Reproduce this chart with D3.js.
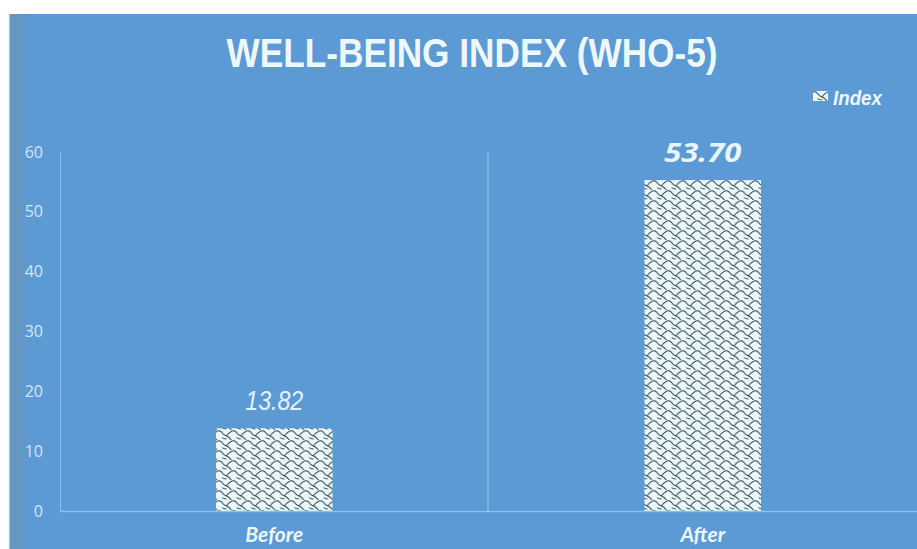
<!DOCTYPE html>
<html>
  <head>
    <meta charset="utf-8" />
    <title>Well-being index (WHO-5)</title>
    <script src="https://d3js.org/d3.v7.min.js"></script>
    <style>
      body {
        margin: 0;
        background: #fff;
      }
      svg {
        display: block;
      }
    </style>
  </head>
  <body>
    <svg width="917" height="549"></svg>
    <script>
      // data
      const categories = ["Before", "After"];
      const barValues = [13.82, 55.3]; // bar heights as drawn in the picture
      const labelTexts = ["13.82", "53.70"]; // data labels as printed
      const yTicks = [0, 10, 20, 30, 40, 50, 60];
      const seriesName = "Index";

      const W = 917,
        H = 549;
      const svg = d3.select("svg");

      // 背景
      const defs = svg.append("defs");
      const grad = defs
        .append("linearGradient")
        .attr("id", "edge")
        .attr("x1", 0)
        .attr("x2", 1);
      grad.append("stop").attr("offset", 0).attr("stop-color", "#6e95b8");
      grad.append("stop").attr("offset", 1).attr("stop-color", "#5b9ad4");

      svg.append("rect").attr("x", 9).attr("y", 14).attr("width", W - 9).attr("height", H - 14).attr("fill", "#5b9ad4");
      svg.append("rect").attr("x", 9).attr("y", 14).attr("width", 22).attr("height", H - 14).attr("fill", "url(#edge)");
      svg.append("rect").attr("x", 8).attr("y", 14).attr("width", 1.5).attr("height", H - 14).attr("fill", "#e4fbfb");

      // shingle pattern
      const pat = defs
        .append("pattern")
        .attr("id", "shingle")
        .attr("patternUnits", "userSpaceOnUse")
        .attr("width", 14.5)
        .attr("height", 10);
      pat.append("rect").attr("width", 14.5).attr("height", 10).attr("fill", "#e9f8fb");
      pat
        .append("path")
        .attr("d", "M0,1 Q3,0 4.5,2.5 T9,6 Q12,7 14.5,11 M9,6 Q11,3 14.5,1 M-5.5,6 Q-3,7 0,11 M0,-4 Q3,-5 4.5,-2.5 M4.5,7.5 Q6,9 9,9 M-5.5,9 Q-2,9 0,11")
        .attr("fill", "none")
        .attr("stroke", "#333d44")
        .attr("stroke-width", 1);

      // scales
      const x = d3.scaleBand().domain(categories).range([60, W]).padding(0);
      const y = d3.scaleLinear().domain([0, 60]).range([511, 152]);
      const barW = x.bandwidth() * 0.272;

      // axes
      const yAxis = svg
        .append("g")
        .attr("transform", "translate(43,0)")
        .call(d3.axisLeft(y).tickValues(yTicks).tickSize(0).tickPadding(0));
      yAxis.select(".domain").remove();
      yAxis
        .selectAll("text")
        .attr("font-family", "'Open Sans', Arial, sans-serif")
        .attr("font-size", 16)
        .attr("fill", "#d4e5f5");

      svg
        .append("line")
        .attr("x1", 60.5)
        .attr("x2", 60.5)
        .attr("y1", y(60))
        .attr("y2", y(0))
        .attr("stroke", "#8cbdec")
        .attr("stroke-width", 1);

      // category divider
      svg
        .append("line")
        .attr("x1", x("After") - 0.5)
        .attr("x2", x("After") - 0.5)
        .attr("y1", y(60))
        .attr("y2", y(0))
        .attr("stroke", "#86b9ea")
        .attr("stroke-width", 1.5);

      // bars
      svg
        .selectAll(".bar")
        .data(categories)
        .enter()
        .append("rect")
        .attr("class", "bar")
        .attr("x", (d) => x(d) + (x.bandwidth() - barW) / 2)
        .attr("y", (d, i) => y(barValues[i]))
        .attr("width", barW)
        .attr("height", (d, i) => y(0) - y(barValues[i]))
        .attr("fill", "url(#shingle)");

      svg
        .append("line")
        .attr("x1", 60)
        .attr("x2", W)
        .attr("y1", y(0) + 0.5)
        .attr("y2", y(0) + 0.5)
        .attr("stroke", "#8cc0f0")
        .attr("stroke-width", 1.5);

      // data labels
      svg
        .selectAll(".lbl")
        .data(categories)
        .enter()
        .append("text")
        .attr("class", "lbl")
        .attr("x", (d) => x(d) + x.bandwidth() / 2)
        .attr("y", (d, i) => y(barValues[i]) - 18)
        .attr("text-anchor", "middle")
        .attr("fill", (d, i) => (i === 0 ? "#e6f2fb" : "#eaf4fc"))
        .attr("font-family", (d, i) => (i === 0 ? "'Liberation Sans', Arial" : "'Open Sans', Arial"))
        .attr("font-style", "italic")
        .attr("font-weight", (d, i) => (i === 0 ? "normal" : "bold"))
        .attr("font-size", (d, i) => (i === 0 ? 27 : 26))
        .attr("textLength", (d, i) => (i === 0 ? 58 : 77))
        .attr("lengthAdjust", "spacingAndGlyphs")
        .text((d, i) => labelTexts[i]);

      // category labels
      svg
        .selectAll(".cat")
        .data(categories)
        .enter()
        .append("text")
        .attr("class", "cat")
        .attr("x", (d) => x(d) + x.bandwidth() / 2)
        .attr("y", 542)
        .attr("text-anchor", "middle")
        .attr("fill", "#eef6fd")
        .attr("font-family", "Lato, 'Open Sans', Arial")
        .attr("font-style", "italic")
        .attr("font-weight", "bold")
        .attr("font-size", 21)
        .text((d) => d);

      // title
      svg
        .append("text")
        .attr("x", 472)
        .attr("y", 67)
        .attr("text-anchor", "middle")
        .attr("fill", "#eef8fc")
        .attr("font-family", "'Liberation Sans Narrow', 'Liberation Sans', Arial")
        .attr("font-weight", "bold")
        .attr("font-size", 41)
        .attr("textLength", 491)
        .attr("lengthAdjust", "spacingAndGlyphs")
        .text("WELL-BEING INDEX (WHO-5)");

      // legend
      const lg = svg.append("g").attr("transform", "translate(813,91)");
      lg.append("rect").attr("width", 15).attr("height", 10).attr("fill", "url(#shingle)");
      lg.append("text")
        .attr("x", 20)
        .attr("y", 14)
        .attr("fill", "#eef6fd")
        .attr("font-family", "'Liberation Sans Narrow', 'Liberation Sans', Arial")
        .attr("font-style", "italic")
        .attr("font-weight", "bold")
        .attr("font-size", 20)
        .attr("textLength", 49)
        .attr("lengthAdjust", "spacingAndGlyphs")
        .text(seriesName);
    </script>
  </body>
</html>
